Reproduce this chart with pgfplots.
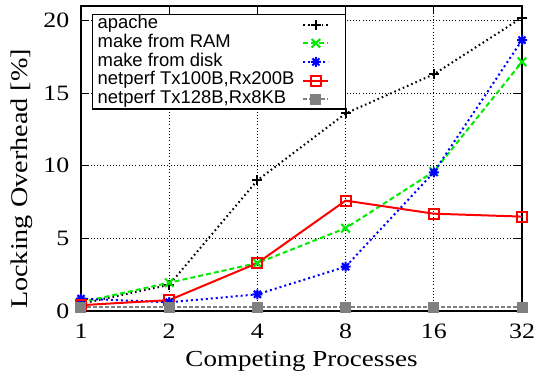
\documentclass[border=0pt]{standalone}
\usepackage{fontspec}
\setmainfont{Liberation Serif}
\newfontfamily\legendfont{Liberation Sans}
\usepackage{graphicx}
\usepackage{pgfplots}
\pgfplotsset{compat=1.18}
\newcommand\sx[1]{\scalebox{1.18}[1]{#1}}
\pgfdeclareplotmark{pluscross}{%
 \pgfpathmoveto{\pgfqpoint{-\pgfplotmarksize}{0pt}}\pgfpathlineto{\pgfqpoint{\pgfplotmarksize}{0pt}}%
 \pgfpathmoveto{\pgfqpoint{0pt}{-\pgfplotmarksize}}\pgfpathlineto{\pgfqpoint{0pt}{\pgfplotmarksize}}%
 \pgfpathmoveto{\pgfqpoint{-.7071\pgfplotmarksize}{-.7071\pgfplotmarksize}}\pgfpathlineto{\pgfqpoint{.7071\pgfplotmarksize}{.7071\pgfplotmarksize}}%
 \pgfpathmoveto{\pgfqpoint{-.7071\pgfplotmarksize}{.7071\pgfplotmarksize}}\pgfpathlineto{\pgfqpoint{.7071\pgfplotmarksize}{-.7071\pgfplotmarksize}}%
 \pgfusepathqstroke}
\definecolor{gpgreen}{RGB}{0,235,0}
\definecolor{gpblue}{RGB}{0,0,255}
\definecolor{gpred}{RGB}{255,0,0}
\definecolor{gpgray}{RGB}{128,128,128}
\begin{document}
\begin{tikzpicture}
\useasboundingbox (-81bp,-69bp) rectangle (454bp,311bp);
\begin{axis}[
  scale only axis, width=441bp, height=305bp,
  xmode=log, log basis x=2,
  xmin=1, xmax=32, ymin=0, ymax=21,
  xtick={1,2,4,8,16,32},
  xticklabels={\sx{1},\sx{2},\sx{4},\sx{8},\sx{16},\sx{32}},
  ytick={0,5,10,15,20},
  yticklabels={\sx{0},\sx{5},\sx{10},\sx{15},\sx{20}},
  minor tick num=0,
  tick align=inside, major tick length=8bp,
  tick style={black, line width=1bp},
  axis line style={black, line width=1.4bp},
  grid=major,
  major grid style={black, line width=0.7bp, dash pattern=on 1bp off 2.2bp},
  tick label style={font=\fontsize{22}{22}\selectfont, inner sep=0pt},
  yticklabel style={anchor=east, xshift=-11.5bp},
  xticklabel style={anchor=north, yshift=-13bp},
  xlabel={\sx{Competing Processes}},
  xlabel style={font=\fontsize{23}{23}\selectfont, inner sep=0pt, at={(axis description cs:0.5,-0.1836)}, anchor=base},
  ylabel={\sx{Locking Overhead [\%]}},
  ylabel style={font=\fontsize{24}{24}\selectfont, inner sep=0pt, at={(axis description cs:-0.1209,0.433)}, anchor=base, rotate=0},
  clip=false,
  every axis plot/.append style={line width=2bp},
  legend plot pos=right,
  legend cell align=left,
  legend image code/.code={\draw[mark repeat=2,mark phase=2,#1] plot coordinates {(0bp,0bp)(12.5bp,0bp)(25bp,0bp)}; \path (36bp,0bp);},
  legend style={at={(axis description cs:0.0249,0.9738)}, anchor=north west,
    draw=black, line width=1.4bp, fill=white,
    font=\legendfont\fontsize{18.5}{18.7}\selectfont,
    inner xsep=5bp, inner ysep=0.5bp, column sep=8bp, row sep=0pt,
    nodes={inner sep=0pt, text height=13.6bp, text depth=5.1bp}},
]
\addplot[black, dash pattern=on 1.6bp off 3bp, mark=+, mark size=5bp, mark options={solid}]
  coordinates {(1,0.5) (2,1.8) (4,9.0) (8,13.6) (16,16.3) (32,20.2)};
\addlegendentry{apache}
\addplot[gpgreen, dash pattern=on 5bp off 3bp, mark=x, mark size=6bp, mark options={solid}]
  coordinates {(1,0.6) (2,1.95) (4,3.3) (8,5.7) (16,9.6) (32,17.15)};
\addlegendentry{make from RAM}
\addplot[gpblue, dash pattern=on 2bp off 3bp, mark=pluscross, mark size=5bp, mark options={solid}]
  coordinates {(1,0.85) (2,0.6) (4,1.15) (8,3.05) (16,9.55) (32,18.65)};
\addlegendentry{make from disk}
\addplot[gpred, solid, mark=square, mark size=5bp, mark options={solid}]
  coordinates {(1,0.4) (2,0.75) (4,3.3) (8,7.6) (16,6.7) (32,6.5)};
\addlegendentry{netperf Tx100B,Rx200B}
\addplot[gpgray, dash pattern=on 4bp off 2bp, mark=square*, mark size=4.5bp, mark options={solid}]
  coordinates {(1,0.25) (2,0.25) (4,0.25) (8,0.25) (16,0.25) (32,0.25)};
\addlegendentry{netperf Tx128B,Rx8KB}
\end{axis}
\end{tikzpicture}
\end{document}
